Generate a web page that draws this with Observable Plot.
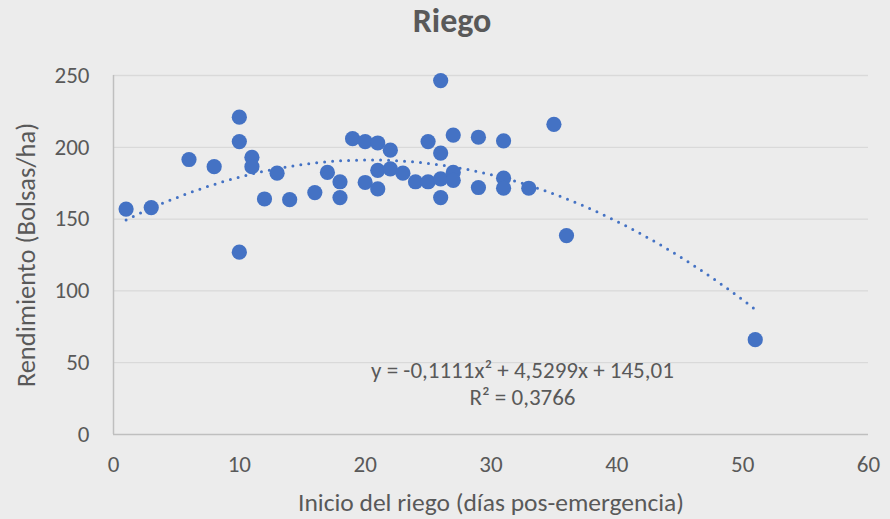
<!DOCTYPE html>
<html>
<head>
<meta charset="utf-8">
<script src="https://cdn.jsdelivr.net/npm/d3@7"></script>
<script src="https://cdn.jsdelivr.net/npm/@observablehq/plot@0.6"></script>
<style>
  html, body { margin: 0; padding: 0; background: #ececec; }
  #wrap { width: 890px; height: 519px; position: relative; font-family: Carlito, "Open Sans", sans-serif; color: #595959; }
  #title { height: 45px; line-height: 42px; padding-top: 0; font-size: 34px; font-weight: bold; text-align: center; padding-left: 14px; box-sizing: border-box; }
  svg { display: block; overflow: visible; }
</style>
</head>
<body>
<div id="wrap">
  <div id="title">Riego</div>
  <div id="chart"></div>
</div>
<script>
// Data
const dias = [1,3,6,8,10,10,10,11,11,12,13,14,16,17,18,18,19,20,20,21,21,21,22,22,23,24,25,25,26,26,26,26,27,27,27,29,29,31,31,31,33,35,36,51];
const rendimiento = [157,158,191.5,186.5,221,204,127,193,186.5,164,182,163.5,168.5,182.5,176,165,206,204,175.5,203,184,171,198,185,182,176,176,204,246.5,196,178,165,208.5,182.5,177,207,172,204.5,178.5,171.5,171.5,216,138.5,66];
// Polynomial trendline coefficients (from the chart's equation): a x^2 + b x + c
const trendCoef = [-0.1111, 4.5299, 145.01];
const xTicks = [0,10,20,30,40,50,60];
const yTicks = [0,50,100,150,200,250];
const eqLines = ["y = -0,1111x² + 4,5299x + 145,01", "R² = 0,3766"];

const points = dias.map((d, i) => ({x: d, y: rendimiento[i]}));
const xmin = d3.min(dias), xmax = d3.max(dias);
const trend = d3.range(xmin, xmax + 0.001, 0.25).map(x => ({x, y: trendCoef[0]*x*x + trendCoef[1]*x + trendCoef[2]}));
const eqData = eqLines.map((t, i) => ({t, x: 32.5, y: 44.5 - i * 18.8}));

const txt = "#595959";
const chart = Plot.plot({
  width: 890,
  height: 474,
  marginLeft: 113,
  marginRight: 22,
  marginTop: 30,
  marginBottom: 85,
  style: {background: "transparent", fontFamily: 'Carlito, "Open Sans", sans-serif', color: txt, overflow: "visible"},
  x: {domain: [0, 60]},
  y: {domain: [0, 250]},
  marks: [
    Plot.gridY(yTicks.filter(d => d > 0), {stroke: "#d9d9d9", strokeOpacity: 1, strokeWidth: 1.3}),
    Plot.ruleY([0], {stroke: "#bfbfbf", strokeWidth: 1.5}),
    Plot.ruleX([0], {stroke: "#bfbfbf", strokeWidth: 1.5}),
    Plot.axisY({ticks: yTicks, tickSize: 0, tickPadding: 24, fontSize: 23, fill: txt,
      label: "Rendimiento (Bolsas/ha)", labelAnchor: "center", labelArrow: "none", labelOffset: 97}),
    Plot.axisX({ticks: xTicks, tickSize: 0, tickPadding: 21, fontSize: 23, fill: txt,
      label: "Inicio del riego (días pos-emergencia)", labelAnchor: "center", labelArrow: "none", labelOffset: 76}),
    Plot.line(trend, {x: "x", y: "y", stroke: "#4472C4", strokeWidth: 3, strokeDasharray: "0 8", strokeLinecap: "round"}),
    Plot.dot(points, {x: "x", y: "y", r: 7.6, fill: "#4472C4", stroke: "none"}),
    Plot.text(eqData, {x: "x", y: "y", text: "t", fontSize: 23, fill: txt})
  ]
});
chart.querySelectorAll('[aria-label="y-axis label"] text').forEach(t => t.setAttribute("font-size", 26.5));
chart.querySelectorAll('[aria-label="x-axis label"] text').forEach(t => t.setAttribute("font-size", 25.5));
document.getElementById("chart").appendChild(chart);
</script>
</body>
</html>
